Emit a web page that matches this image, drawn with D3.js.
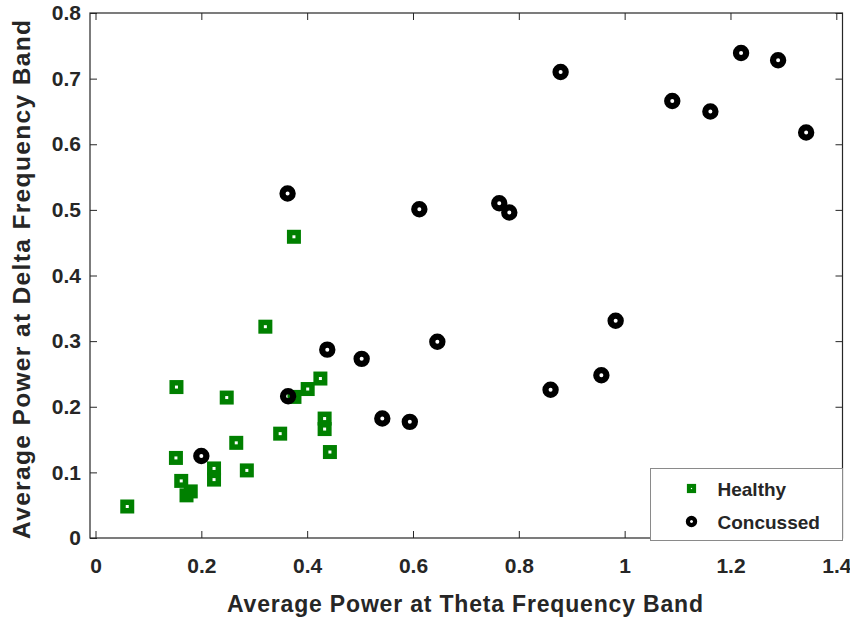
<!DOCTYPE html>
<html lang="en">
<head>
<meta charset="UTF-8">
<title>Average Power: Theta vs Delta</title>
<script src="https://cdnjs.cloudflare.com/ajax/libs/d3/7.8.5/d3.min.js"></script>
<style>
  body { margin: 0; background: #fff; font-family: "Liberation Sans", Arial, sans-serif; }
  svg text { fill: #262626; font-weight: bold; }
</style>
</head>
<body>
<div id="chart"></div>
<script>
// data: theta power (x), delta power (y)
const healthyTheta = [0.060, 0.153, 0.152, 0.162, 0.172, 0.180, 0.224, 0.224, 0.248, 0.266,
                      0.286, 0.321, 0.349, 0.376, 0.401, 0.425, 0.433, 0.433, 0.443, 0.375];
const healthyDelta = [0.048, 0.230, 0.122, 0.087, 0.065, 0.071, 0.106, 0.089, 0.214, 0.145,
                      0.103, 0.322, 0.159, 0.215, 0.227, 0.243, 0.182, 0.166, 0.131, 0.459];
const concussedTheta = [0.200, 0.364, 0.438, 0.503, 0.542, 0.594, 0.646, 0.860, 0.956, 0.983,
                        0.363, 0.612, 0.763, 0.782, 0.879, 1.090, 1.162, 1.220, 1.290, 1.343];
const concussedDelta = [0.125, 0.216, 0.287, 0.273, 0.182, 0.177, 0.299, 0.226, 0.248, 0.331,
                        0.525, 0.501, 0.510, 0.496, 0.710, 0.666, 0.650, 0.739, 0.728, 0.618];
const xTicks = [0, 0.2, 0.4, 0.6, 0.8, 1, 1.2, 1.4];
const yTicks = [0, 0.1, 0.2, 0.3, 0.4, 0.5, 0.6, 0.7, 0.8];
const seriesNames = ["Healthy", "Concussed"];

const width = 850, height = 619;
const plotL = 90, plotR = 842.5, plotT = 13, plotB = 538;
const axisColor = "#262626";
const green = "#008000";

const svg = d3.select("#chart").append("svg")
    .attr("width", width)
    .attr("height", height);

const x = d3.scaleLinear().domain([-0.0104, 1.4117]).range([plotL, plotR]);
const y = d3.scaleLinear().domain([0, 0.8]).range([plotB, plotT]);

const fmt = d => String(+d.toFixed(1));

function styleAxis(g) {
    g.select(".domain").remove();
    g.selectAll(".tick line").attr("stroke", axisColor).attr("stroke-width", 1);
    g.selectAll(".tick text").style("font-size", "21px").attr("fill", axisColor);
}

// bottom + top x axes (ticks inward)
svg.append("g").attr("transform", `translate(0,${plotB})`)
    .call(d3.axisBottom(x).tickValues(xTicks).tickFormat(fmt).tickSizeInner(-7).tickSizeOuter(0).tickPadding(20))
    .call(styleAxis);
svg.append("g").attr("transform", `translate(0,${plotT})`)
    .call(d3.axisTop(x).tickValues(xTicks).tickFormat("").tickSizeInner(-7).tickSizeOuter(0))
    .call(styleAxis);

// left + right y axes
svg.append("g").attr("transform", `translate(${plotL},0)`)
    .call(d3.axisLeft(y).tickValues(yTicks).tickFormat(fmt).tickSizeInner(-7).tickSizeOuter(0).tickPadding(9))
    .call(styleAxis);
svg.append("g").attr("transform", `translate(${plotR},0)`)
    .call(d3.axisRight(y).tickValues(yTicks).tickFormat("").tickSizeInner(-7).tickSizeOuter(0))
    .call(styleAxis);

// frame
svg.append("rect")
    .attr("x", plotL).attr("y", plotT)
    .attr("width", plotR - plotL).attr("height", plotB - plotT)
    .attr("fill", "none")
    .attr("stroke", axisColor)
    .attr("stroke-width", 1.2);

// axis titles
svg.append("text")
    .attr("x", 465).attr("y", 612)
    .attr("text-anchor", "middle")
    .attr("textLength", 476).attr("lengthAdjust", "spacing")
    .style("font-size", "23px")
    .text("Average Power at Theta Frequency Band");

svg.append("text")
    .attr("transform", "translate(29.5,279.5) rotate(-90)")
    .attr("text-anchor", "middle")
    .attr("textLength", 519).attr("lengthAdjust", "spacing")
    .style("font-size", "24.5px")
    .text("Average Power at Delta Frequency Band");

// markers
const healthy = healthyTheta.map((t, i) => ({ t, d: healthyDelta[i] }));
const concussed = concussedTheta.map((t, i) => ({ t, d: concussedDelta[i] }));

const sq = 8.5;
svg.append("g").selectAll("rect")
    .data(healthy)
    .join("rect")
    .attr("x", d => x(d.t) - sq / 2)
    .attr("y", d => y(d.d) - sq / 2)
    .attr("width", sq).attr("height", sq)
    .attr("fill", "none")
    .attr("stroke", green)
    .attr("stroke-width", 5.5);

svg.append("g").selectAll("circle")
    .data(concussed)
    .join("circle")
    .attr("cx", d => x(d.t))
    .attr("cy", d => y(d.d))
    .attr("r", 5.1)
    .attr("fill", "none")
    .attr("stroke", "#000")
    .attr("stroke-width", 6.2);

// legend
const legend = svg.append("g");
legend.append("rect")
    .attr("x", 650.5).attr("y", 468.5)
    .attr("width", 192).attr("height", 72)
    .attr("fill", "#fff")
    .attr("stroke", "#8a8a8a")
    .attr("stroke-width", 1);

const rows = legend.selectAll("g.row")
    .data(seriesNames)
    .join("g")
    .attr("class", "row")
    .attr("transform", (d, i) => `translate(691.5,${488.5 + i * 33})`);

rows.filter((d, i) => i === 0).append("rect")
    .attr("x", -2.6).attr("y", -2.6).attr("width", 5.2).attr("height", 5.2)
    .attr("fill", "none").attr("stroke", green).attr("stroke-width", 4);
rows.filter((d, i) => i === 1).append("circle")
    .attr("r", 3.6)
    .attr("fill", "none").attr("stroke", "#000").attr("stroke-width", 4.2);

rows.append("text")
    .attr("x", 26).attr("y", 7)
    .style("font-size", "19px")
    .text(d => d);
</script>
</body>
</html>
